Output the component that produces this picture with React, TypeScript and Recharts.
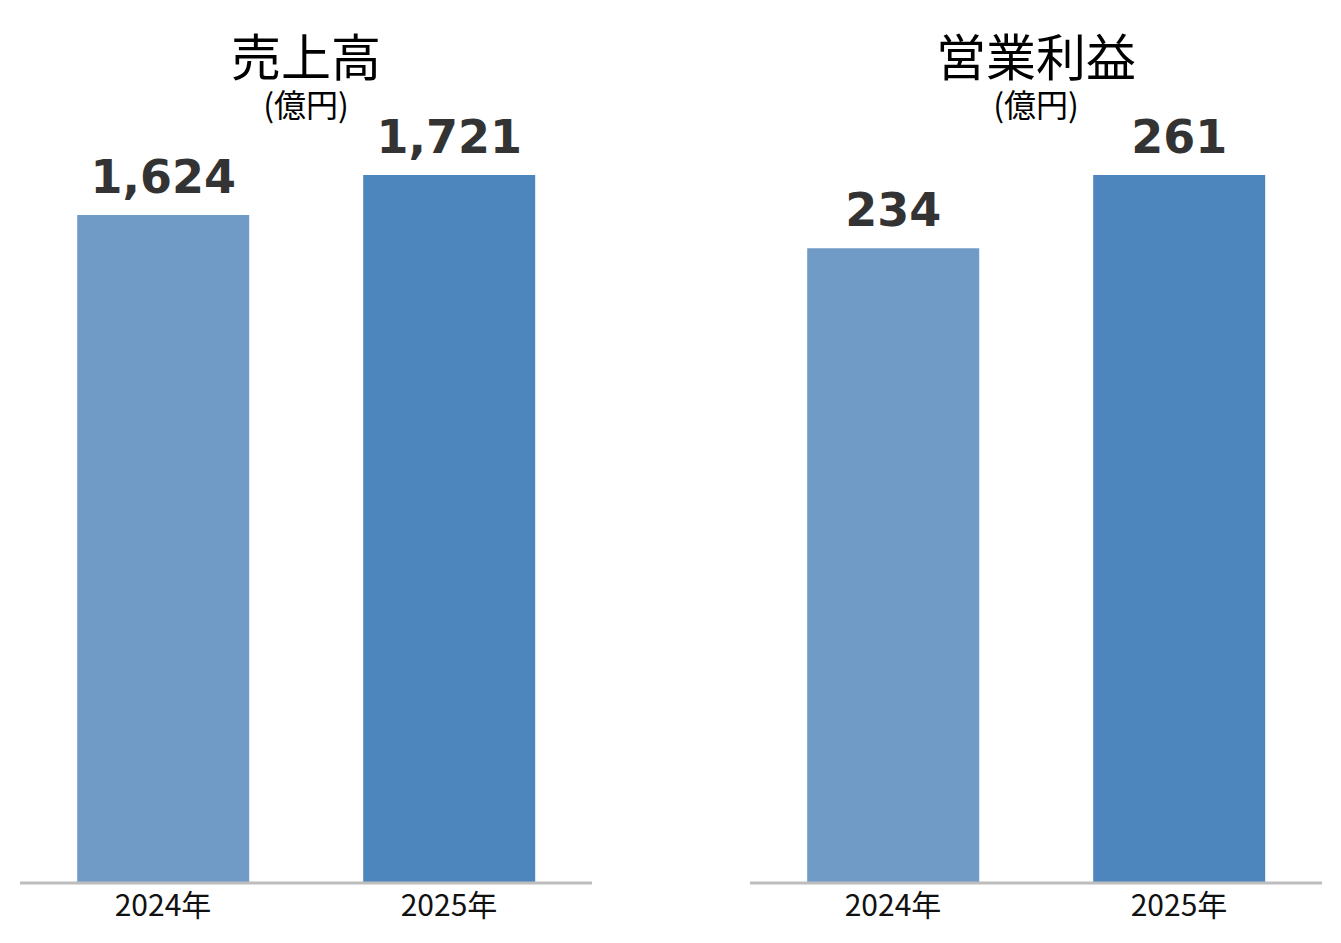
import React from "react";
import { BarChart, Bar, XAxis, YAxis, Cell, LabelList } from "recharts";

const years = ["2024年", "2025年"];
const salesValues = [1624, 1721];
const profitValues = [234, 261];
const barColors = ["#709bc6", "#4c86bc"];
const panelTitles = ["売上高", "営業利益"];
const unitLabel = "(億円)";

const fmt = (v: any) => Number(v).toLocaleString("en-US");

const CJK = '"Noto Sans CJK JP", "Noto Sans", sans-serif';

function Panel({ title, values, left }: { title: string; values: number[]; left: number }) {
  const data = years.map((y, i) => ({ year: y, value: values[i] }));
  return (
    <div style={{ position: "absolute", left, top: 0, width: 600, height: 935 }}>
      <BarChart
        width={600}
        height={935}
        data={data}
        margin={{ top: 167, right: 16, bottom: 30, left: 12 }}
        barCategoryGap="20%"
      >
        <XAxis
          dataKey="year"
          axisLine={{ stroke: "#bdbdbd", strokeWidth: 3 }}
          tickLine={false}
          tickSize={6}
          tickMargin={6}
          tick={{ fill: "#111", fontSize: 30, fontFamily: CJK }}
        />
        <YAxis hide domain={[0, "dataMax"]} />
        <Bar dataKey="value" isAnimationActive={false}>
          {data.map((d, i) => (
            <Cell key={d.year} fill={barColors[i]} />
          ))}
          <LabelList
            dataKey="value"
            position="top"
            offset={22}
            formatter={fmt}
            style={{
              fill: "#333",
              fontSize: 46,
              fontWeight: 700,
              fontFamily: '"DejaVu Sans", sans-serif',
            }}
          />
        </Bar>
      </BarChart>
      <div
        style={{
          position: "absolute",
          left: 12,
          width: 572,
          top: 21,
          textAlign: "center",
          fontFamily: CJK,
          fontSize: 50,
          lineHeight: "50px",
          color: "#000",
        }}
      >
        {title}
      </div>
      <div
        style={{
          position: "absolute",
          left: 12,
          width: 572,
          top: 79,
          textAlign: "center",
          fontFamily: CJK,
          fontSize: 32,
          lineHeight: "32px",
          color: "#000",
        }}
      >
        {unitLabel}
      </div>
    </div>
  );
}

export default function App() {
  return (
    <div style={{ position: "relative", width: 1333, height: 935 }}>
      <Panel title={panelTitles[0]} values={salesValues} left={0} />
      <Panel title={panelTitles[1]} values={profitValues} left={730} />
    </div>
  );
}
